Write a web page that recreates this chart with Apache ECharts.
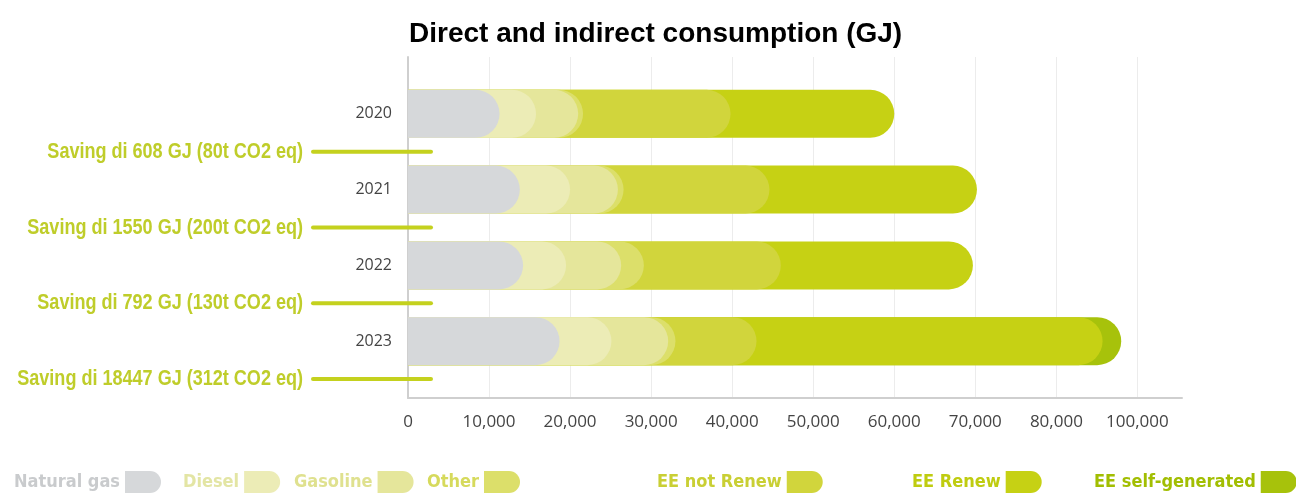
<!DOCTYPE html>
<html>
<head>
<meta charset="utf-8">
<script src="https://cdn.jsdelivr.net/npm/echarts@6/dist/echarts.min.js"></script>
<style>
  html, body { margin: 0; padding: 0; background: #ffffff; }
  #chart { width: 1296px; height: 496px; }
</style>
</head>
<body>
<div id="chart"></div>
<script>
// Energy consumption per year, by source (GJ)
const years = ['2020', '2021', '2022', '2023'];
const savings = [
  'Saving di 608 GJ (80t CO2 eq)',
  'Saving di 1550 GJ (200t CO2 eq)',
  'Saving di 792 GJ (130t CO2 eq)',
  'Saving di 18447 GJ (312t CO2 eq)'
];
const naturalGas = [11300, 13800, 14200, 18700];
const diesel     = [4500, 6200, 5300, 6400];
const gasoline   = [5200, 5900, 6800, 7000];
const other      = [600, 700, 2800, 900];
const eeNotRenew = [18200, 18000, 16900, 10000];
const eeRenew    = [20200, 25600, 23700, 42700];
const eeSelf     = [0, 0, 0, 2300];
const xTickLabels = ['0', '10,000', '20,000', '30,000', '40,000', '50,000',
                     '60,000', '70,000', '80,000', '100,000'];

const sources = [
  { name: 'Natural gas',       values: naturalGas, color: '#d6d8da', text: '#c9cbcd' },
  { name: 'Diesel',            values: diesel,     color: '#ececb6', text: '#e3e5a4' },
  { name: 'Gasoline',          values: gasoline,   color: '#e5e69b', text: '#dfe18f' },
  { name: 'Other',             values: other,      color: '#dcdf6a', text: '#d6da5c' },
  { name: 'EE not Renew',      values: eeNotRenew, color: '#d1d53c', text: '#c9cf34' },
  { name: 'EE Renew',          values: eeRenew,    color: '#c6d114', text: '#bfcc10' },
  { name: 'EE self-generated', values: eeSelf,     color: '#a7c20b', text: '#a2be02' }
];
const legendLeft = [14, 183, 294, 427, 657, 912, 1094];

// rows of the category axis: a spacer, then each year followed by its saving note
const rows = ['pad'];
years.forEach((y, i) => { rows.push(y); rows.push('saving' + i); });

// each source is drawn as a bar running from zero to its running total,
// larger totals behind, so the rounded ends stack into segments
const running = years.map(() => 0);
const barSeries = sources.map(src => {
  const data = rows.map(() => '-');
  years.forEach((y, i) => {
    running[i] += src.values[i];
    if (src.values[i] > 0) data[rows.indexOf(y)] = running[i];
  });
  return {
    name: src.name,
    type: 'bar',
    data: data,
    barWidth: 48,
    barGap: '-100%',
    itemStyle: { color: src.color, borderRadius: [0, 24, 24, 0] },
    emphasis: { disabled: true },
    silent: true
  };
}).reverse();

const savingColor = '#bfcd2a';
const savingRows = years.map((y, i) => [0, 'saving' + i, i]);

const tabIcon = 'path://M0,0H25A11,11,0,0,1,36,11V11A11,11,0,0,1,25,22H0Z';

const legends = sources.map((src, i) => ({
  left: legendLeft[i],
  top: 471,
  padding: 0,
  align: 'right',
  itemWidth: 36,
  itemHeight: 22,
  itemGap: 0,
  icon: tabIcon,
  selectedMode: false,
  data: [{ name: src.name, textStyle: { color: src.text } }],
  textStyle: {
    fontFamily: '"DejaVu Sans Condensed", "DejaVu Sans", sans-serif',
    fontWeight: 'bold',
    fontSize: 18
  }
}));

const chart = echarts.init(document.getElementById('chart'), null, { renderer: 'canvas' });
chart.setOption({
  animation: false,
  backgroundColor: '#ffffff',
  title: {
    text: 'Direct and indirect consumption (GJ)',
    left: 404,
    top: 15,
    textStyle: { fontFamily: 'Liberation Sans', fontWeight: 'bold', fontSize: 28, color: '#000000' }
  },
  legend: legends,
  grid: { left: 408, right: 114, top: 57, bottom: 98, containLabel: false, outerBoundsMode: 'none' },
  xAxis: {
    type: 'value',
    min: 0,
    max: 95500,
    interval: 10000,
    axisLine: { show: true, lineStyle: { color: '#cfcfcf', width: 2 } },
    axisTick: { show: false },
    splitLine: { show: true, showMaxLine: false, showMinLine: false, lineStyle: { color: '#ececec', width: 1 } },
    axisLabel: {
      showMaxLabel: false,
      margin: 16,
      fontFamily: 'Open Sans',
      fontSize: 17,
      color: '#444444',
      formatter: v => {
        const k = v / 10000;
        return Number.isInteger(k) && xTickLabels[k] !== undefined ? xTickLabels[k] : '';
      }
    }
  },
  yAxis: {
    type: 'category',
    inverse: true,
    data: rows,
    axisLine: { show: true, lineStyle: { color: '#cfcfcf', width: 2 } },
    axisTick: { show: false },
    splitLine: { show: false },
    axisLabel: {
      margin: 16,
      interval: 0,
      fontFamily: 'Open Sans',
      fontSize: 16,
      color: '#444444',
      formatter: v => (years.includes(v) ? v : '')
    }
  },
  series: barSeries.concat([{
    // saving notes: condensed green caption with a leader line crossing the axis
    type: 'custom',
    name: 'saving-notes',
    silent: true,
    clip: false,
    data: savingRows,
    encode: { x: 0, y: 1 },
    z: 5,
    renderItem: (params, api) => {
      const p = api.coord([0, api.value(1)]);
      const note = savings[api.value(2)];
      return {
        type: 'group',
        children: [
          {
            type: 'line',
            shape: { x1: p[0] - 95, y1: p[1], x2: p[0] + 23, y2: p[1] },
            style: { stroke: '#c4d11e', lineWidth: 4, lineCap: 'round' }
          },
          {
            type: 'text',
            x: p[0] - 105,
            y: p[1],
            scaleX: 0.82,
            style: {
              text: note,
              fontFamily: 'Liberation Sans',
              fontWeight: 'bold',
              fontSize: 22,
              fill: savingColor,
              align: 'right',
              verticalAlign: 'middle'
            }
          }
        ]
      };
    }
  }])
});
</script>
</body>
</html>
